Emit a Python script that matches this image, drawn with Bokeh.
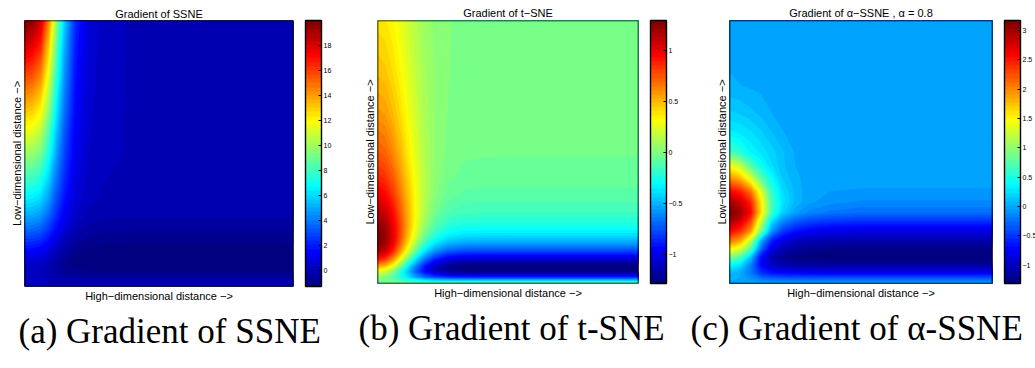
import numpy as np
from bokeh.plotting import figure
from bokeh.models import LinearColorMapper, ColorBar, FixedTicker, Title, Range1d, BoxAnnotation
from bokeh.layouts import row
from bokeh.embed import file_html
from bokeh.resources import INLINE

# ---------------- data ----------------
# (a) SSNE: columns = high-dim distance (fraction of axis), rows = low-dim distance
ssne_u = [0, 0.03, 0.06, 0.09, 0.12, 0.15, 0.19, 0.24, 0.3, 0.4, 1.0]
ssne_v = [0, 0.025, 0.05, 0.08, 0.11, 0.14, 0.18, 0.22, 0.26, 0.32, 0.4, 0.5, 0.65, 0.8, 1.0]
ssne_z = [
    [0, 0, 0, 0, 0, 0, 0, 0, 0, 0, 0],
    [0.2, 0.19, 0.16, 0.06, -0.06, -0.16, -0.25, -0.28, -0.3, -0.3, -0.3],
    [0.1, 0.08, 0.02, -0.18, -0.43, -0.62, -0.79, -0.87, -0.89, -0.9, -0.9],
    [0.35, 0.32, 0.21, -0.09, -0.49, -0.8, -1.07, -1.19, -1.24, -1.25, -1.25],
    [0.9, 0.86, 0.71, 0.3, -0.25, -0.68, -1.06, -1.22, -1.28, -1.3, -1.3],
    [1.65, 1.59, 1.41, 0.88, 0.18, -0.37, -0.84, -1.05, -1.13, -1.15, -1.15],
    [2.75, 2.68, 2.44, 1.76, 0.86, 0.16, -0.45, -0.72, -0.82, -0.85, -0.85],
    [3.85, 3.76, 3.48, 2.64, 1.54, 0.68, -0.07, -0.4, -0.52, -0.55, -0.55],
    [4.9, 4.8, 4.46, 3.47, 2.17, 1.16, 0.27, -0.12, -0.26, -0.3, -0.3],
    [6.28, 6.15, 5.74, 4.52, 2.92, 1.67, 0.58, 0.1, -0.07, -0.12, -0.12],
    [7.97, 7.81, 7.29, 5.77, 3.77, 2.21, 0.85, 0.25, 0.03, -0.03, -0.03],
    [10, 9.8, 9.15, 7.25, 4.75, 2.8, 1.1, 0.35, 0.08, 0, 0],
    [13, 12.74, 11.9, 9.43, 6.18, 3.64, 1.43, 0.46, 0.1, 0, 0],
    [16, 15.68, 14.64, 11.6, 7.6, 4.48, 1.76, 0.56, 0.12, 0, 0],
    [20, 19.6, 18.3, 14.5, 9.5, 5.6, 2.2, 0.7, 0.15, 0, 0],
]
ssne_ticks = [0, 2, 4, 6, 8, 10, 12, 14, 16, 18]

# (b) t-SNE
tsne_u = [0, 0.03, 0.06, 0.09, 0.12, 0.15, 0.18, 0.22, 0.27, 0.33, 0.4, 0.5, 1.0]
tsne_v = [0, 0.01, 0.025, 0.045, 0.065, 0.09, 0.12, 0.15, 0.18, 0.22, 0.27, 0.33, 0.4, 0.5, 0.65, 0.8, 1.0]
tsne_z = [
    [0, 0, 0, 0, 0, 0, 0, 0, 0, 0, 0, 0, 0],
    [0.004, -0.013, -0.059, -0.123, -0.192, -0.256, -0.307, -0.352, -0.38, -0.39, -0.392, -0.392, -0.392],
    [0.056, 0.016, -0.093, -0.246, -0.411, -0.563, -0.684, -0.791, -0.856, -0.88, -0.885, -0.885, -0.885],
    [0.251, 0.189, 0.015, -0.228, -0.491, -0.732, -0.925, -1.096, -1.199, -1.237, -1.245, -1.246, -1.246],
    [0.543, 0.466, 0.254, -0.042, -0.364, -0.658, -0.894, -1.102, -1.228, -1.274, -1.284, -1.285, -1.285],
    [0.89, 0.807, 0.576, 0.254, -0.096, -0.417, -0.673, -0.9, -1.037, -1.088, -1.098, -1.099, -1.099],
    [1.161, 1.078, 0.85, 0.531, 0.185, -0.132, -0.386, -0.61, -0.745, -0.795, -0.805, -0.806, -0.806],
    [1.278, 1.2, 0.986, 0.687, 0.362, 0.065, -0.174, -0.384, -0.511, -0.557, -0.567, -0.568, -0.568],
    [1.297, 1.226, 1.029, 0.754, 0.455, 0.182, -0.037, -0.231, -0.348, -0.391, -0.399, -0.4, -0.4],
    [1.249, 1.186, 1.011, 0.767, 0.502, 0.259, 0.065, -0.107, -0.211, -0.25, -0.258, -0.258, -0.258],
    [1.146, 1.091, 0.94, 0.728, 0.499, 0.289, 0.121, -0.027, -0.117, -0.15, -0.156, -0.157, -0.157],
    [1.017, 0.97, 0.841, 0.662, 0.466, 0.287, 0.144, 0.018, -0.059, -0.087, -0.093, -0.093, -0.093],
    [0.886, 0.846, 0.737, 0.584, 0.419, 0.267, 0.146, 0.039, -0.026, -0.05, -0.055, -0.055, -0.055],
    [0.739, 0.707, 0.618, 0.493, 0.358, 0.234, 0.135, 0.047, -0.006, -0.025, -0.029, -0.03, -0.03],
    [0.587, 0.562, 0.492, 0.395, 0.289, 0.192, 0.115, 0.046, 0.005, -0.011, -0.014, -0.014, -0.014],
    [0.485, 0.464, 0.407, 0.327, 0.241, 0.161, 0.098, 0.042, 0.008, -0.005, -0.007, -0.008, -0.008],
    [0.392, 0.375, 0.329, 0.265, 0.196, 0.132, 0.081, 0.036, 0.008, -0.002, -0.004, -0.004, -0.004],
]
tsne_ticks = [-1, -0.5, 0, 0.5, 1]

# (c) alpha-SSNE, alpha = 0.8
alpha_u = [0, 0.04, 0.08, 0.12, 0.16, 0.2, 0.25, 0.3, 0.38, 0.5, 0.7, 1.0]
alpha_v = [0, 0.02, 0.04, 0.07, 0.1, 0.13, 0.16, 0.2, 0.24, 0.27, 0.31, 0.35, 0.4, 0.45, 0.5, 0.57, 0.65, 0.75, 0.85, 1.0]
alpha_z = [
    [0, 0, 0, 0, 0, 0, 0, 0, 0, 0, 0, 0],
    [0.05, 0.015, -0.089, -0.241, -0.305, -0.328, -0.341, -0.346, -0.35, -0.35, -0.35, -0.35],
    [0.1, 0.026, -0.196, -0.518, -0.655, -0.704, -0.731, -0.741, -0.75, -0.75, -0.75, -0.75],
    [0.4, 0.265, -0.139, -0.727, -0.976, -1.066, -1.115, -1.134, -1.15, -1.15, -1.15, -1.15],
    [0.93, 0.735, 0.15, -0.698, -1.059, -1.189, -1.26, -1.286, -1.31, -1.31, -1.31, -1.31],
    [1.5, 1.299, 0.741, -0.279, -0.835, -1.044, -1.159, -1.211, -1.236, -1.25, -1.25, -1.25],
    [2.05, 1.82, 1.181, 0.012, -0.624, -0.864, -0.996, -1.056, -1.084, -1.1, -1.1, -1.1],
    [2.6, 2.41, 1.945, 0.91, -0.06, -0.45, -0.657, -0.753, -0.815, -0.85, -0.85, -0.85],
    [3.0, 2.808, 2.335, 1.285, 0.3, -0.094, -0.304, -0.402, -0.465, -0.5, -0.5, -0.5],
    [3.17, 2.999, 2.595, 1.617, 0.649, 0.205, -0.028, -0.137, -0.209, -0.25, -0.25, -0.25],
    [2.97, 2.815, 2.449, 1.563, 0.685, 0.282, 0.072, -0.028, -0.093, -0.13, -0.13, -0.13],
    [2.6, 2.45, 2.1, 1.35, 0.6, 0.25, 0.07, -0.02, -0.05, -0.06, -0.06, -0.06],
    [1.98, 1.8, 1.35, 0.8, 0.4, 0.16, 0.04, -0.01, -0.02, -0.02, -0.02, -0.02],
    [1.4, 1.2, 0.75, 0.42, 0.24, 0.11, 0.02, 0, 0, 0, 0, 0],
    [0.7, 0.55, 0.36, 0.28, 0.19, 0.105, 0.01, 0, 0, 0, 0, 0],
    [0.33, 0.3, 0.25, 0.18, 0.1, 0.025, 0, 0, 0, 0, 0, 0],
    [0.17, 0.15, 0.11, 0.065, 0.02, 0, 0, 0, 0, 0, 0, 0],
    [0.035, 0.022, 0.01, 0, 0, 0, 0, 0, 0, 0, 0, 0],
    [0.005, 0, 0, 0, 0, 0, 0, 0, 0, 0, 0, 0],
    [0, 0, 0, 0, 0, 0, 0, 0, 0, 0, 0, 0],
]
alpha_ticks = [-1, -0.5, 0, 0.5, 1, 1.5, 2, 2.5, 3]

titles = ["Gradient of SSNE", "Gradient of t\u2212SNE", "Gradient of \u03b1\u2212SSNE , \u03b1 = 0.8"]
captions = ["(a) Gradient of SSNE", "(b) Gradient of t-SNE", "(c) Gradient of \u03b1-SSNE"]
xlabel = "High\u2212dimensional distance \u2212>"
ylabel = "Low\u2212dimensional distance \u2212>"


# ---------------- style ----------------
def jet(n):
    out = []
    for i in range(n):
        f = i / (n - 1)
        r = min(max(1.5 - abs(4 * f - 3), 0), 1)
        g = min(max(1.5 - abs(4 * f - 2), 0), 1)
        b = min(max(1.5 - abs(4 * f - 1), 0), 1)
        out.append("#%02x%02x%02x" % (round(r * 255), round(g * 255), round(b * 255)))
    return out


JET = jet(64)
SANS = "Liberation Sans"


def fmt(t):
    return ("%g" % t).replace("-", "\u2212")


def panel(u, v, z, ticks, title, caption, cap_off, title_gap, fw, fh, bl, br, bt, bb):
    z = np.array(z, dtype=float)
    lo, hi = z.min(), z.max()
    eps = (hi - lo) * 1e-4
    levels = np.linspace(lo - eps, hi + eps, 65)
    p = figure(frame_width=fw, frame_height=fh,
               x_range=Range1d(u[0], u[-1]), y_range=Range1d(v[0], v[-1]),
               x_axis_location=None, y_axis_location=None,
               toolbar_location=None, output_backend="svg",
               min_border_left=bl, min_border_right=br,
               min_border_top=bt, min_border_bottom=bb)
    p.grid.visible = False
    p.outline_line_color = None
    p.background_fill_color = JET[0]
    p.border_fill_color = "white"
    # stacked fills: band k covers every point with z >= level k, so no seams
    for k in range(64):
        p.contour(x=u, y=v, z=z, levels=[levels[k], levels[-1] + 1.0],
                  fill_color=JET[k], line_color=None)
    # black frame drawn on top of the filled contours
    p.add_layout(BoxAnnotation(fill_alpha=0, line_color="black", line_alpha=1.0,
                               line_width=1.6, level="overlay"))

    mapper = LinearColorMapper(palette=JET, low=levels[0], high=levels[-1])
    cb = ColorBar(color_mapper=mapper, ticker=FixedTicker(ticks=ticks),
                  major_label_overrides={t: fmt(t) for t in ticks},
                  location=(fw + 12, 0), orientation="vertical",
                  width=16, height=fh, padding=0, margin=0,
                  bar_line_color="black", bar_line_width=1.4,
                  major_tick_line_color="black", major_tick_in=3, major_tick_out=0,
                  major_label_text_font=SANS, major_label_text_font_size="7px",
                  major_label_text_color="black",
                  label_standoff=2, border_line_color=None,
                  background_fill_alpha=0)
    p.add_layout(cb, "center")
    p.add_layout(Title(text=title, align="center", text_font=SANS,
                       text_font_size="11px", text_font_style="normal",
                       text_line_height=1.0, text_color="black",
                       standoff=title_gap), "above")
    p.add_layout(Title(text=ylabel, align="center", text_font=SANS,
                       text_font_size="11px", text_font_style="normal",
                       text_color="black", standoff=4), "left")
    p.add_layout(Title(text=xlabel, align="center", text_font=SANS,
                       text_font_size="11px", text_font_style="normal",
                       text_color="black", standoff=2), "below")
    p.add_layout(Title(text=caption, align="left", offset=cap_off,
                       text_font="Liberation Serif",
                       text_font_size="35px", text_font_style="normal",
                       text_color="black", standoff=14), "below")
    return p


pa = panel(ssne_u, ssne_v, ssne_z, ssne_ticks, titles[0], captions[0], -6, 1, 269, 266, 24, 52, 16, 84)
pb = panel(tsne_u, tsne_v, tsne_z, tsne_ticks, titles[1], captions[1], -19, 4, 261, 263, 32, 52, 20, 85)
pc = panel(alpha_u, alpha_v, alpha_z, alpha_ticks, titles[2], captions[2], -39, 4, 263, 263, 39, 43, 20, 85)

layout = row(pa, pb, pc, spacing=0)
open("out.html", "w").write(file_html(layout, INLINE))
